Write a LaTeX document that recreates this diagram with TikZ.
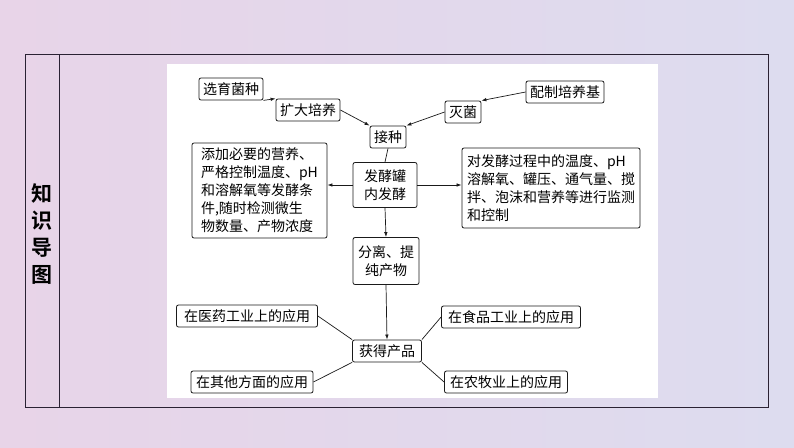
\documentclass[tikz,border=0pt]{standalone}
\usepackage{fontspec}
\setmainfont{Noto Sans CJK SC}[BoldFont={Noto Sans CJK SC Bold}]
\usepackage{tikz}
\usetikzlibrary{arrows.meta, positioning}
\definecolor{bgleft}{HTML}{E8D4E8}
\definecolor{bgright}{HTML}{DDDCEF}
\definecolor{framecol}{HTML}{2A2233}
\definecolor{inkcol}{HTML}{1A1A1A}

\begin{document}
\begin{tikzpicture}[
    x=1pt, y=-1pt,
    font=\fontsize{14}{18}\selectfont,
    box/.style={draw=inkcol, fill=white, rounded corners=2pt, line width=0.8pt,
        inner xsep=4pt, inner ysep=2pt, minimum height=22pt, align=center},
    textbox/.style={box, align=left, inner xsep=5pt},
    flow/.style={-{Latex[length=5pt, width=3.5pt]}, line width=0.7pt, color=inkcol},
    link/.style={line width=0.7pt, color=inkcol},
    frame/.style={draw=framecol, line width=0.8pt}
]

% =====================================================
% BACKGROUND AND FRAME
% =====================================================
\useasboundingbox (0,0) rectangle (794,447);
\shade[left color=bgleft, right color=bgright] (0,0) rectangle (794,447);
\draw[frame] (25,54) rectangle (768,407);
\draw[frame] (59,54) -- (59,407);
\fill[white] (167,64) rectangle (658,398);

% Side title
\node[font=\fontsize{21}{27}\selectfont\bfseries, align=center, inner sep=0pt]
    (title) at (42,234) {知\\识\\导\\图};

% =====================================================
% PREPARATION (TOP ROW)
% =====================================================
\node[box] (xuanyu)   at (231, 89) {选育菌种};
\node[box] (kuoda)    at (308,110) {扩大培养};
\node[box] (peizhi)   at (565, 92) {配制培养基};
\node[box] (miejun)   at (463,112) {灭菌};
\node[box] (jiezhong) at (388,137) {接种};

\draw[flow] (xuanyu.south east) -- (kuoda.north west);
\draw[flow] (kuoda.east) -- (jiezhong.north west);
\draw[flow] (peizhi.west) -- (miejun.north east);
\draw[flow] (miejun.west) -- (jiezhong.north east);

% =====================================================
% FERMENTATION
% =====================================================
\node[box, minimum width=64pt, minimum height=45pt] (fajiao) at (385,185) {发酵罐\\内发酵};
\node[textbox, minimum width=135pt, minimum height=95pt] (tiaojian) at (259.5,190.5)
    {添加必要的营养、\\严格控制温度、pH\\和溶解氧等发酵条\\件,随时检测微生\\物数量、产物浓度};
\node[textbox, minimum width=178pt, minimum height=80pt] (jiance) at (551,188)
    {对发酵过程中的温度、pH\\溶解氧、罐压、通气量、搅\\拌、泡沫和营养等进行监测\\和控制};

\draw[link] (jiezhong.south) -- (fajiao.north);
\draw[flow] (fajiao.west) -- (fajiao.west -| tiaojian.east);
\draw[flow] (fajiao.east) -- (fajiao.east -| jiance.west);

% =====================================================
% PRODUCT AND APPLICATIONS
% =====================================================
\node[box, minimum width=66pt, minimum height=47pt] (fenli) at (386,261) {分离、提\\纯产物};
\node[box, minimum width=69pt] (huode) at (387,351) {获得产品};

\draw[flow] (fajiao.south) -- (fenli.north);
\draw[flow] (fenli.south) -- (huode.north);

\node[box, minimum width=141pt] (yiyao)  at (247,316) {在医药工业上的应用};
\node[box, minimum width=139pt] (shipin) at (511,317) {在食品工业上的应用};
\node[box, minimum width=122pt] (qita)   at (252,382) {在其他方面的应用};
\node[box, minimum width=123pt] (nongmu) at (506,382) {在农牧业上的应用};

\draw[link] (yiyao.east) -- (huode.north west);
\draw[link] (shipin.west) -- (huode.north east);
\draw[link] (qita.east) -- (huode.south west);
\draw[link] (nongmu.west) -- (huode.south east);

\end{tikzpicture}
\end{document}
